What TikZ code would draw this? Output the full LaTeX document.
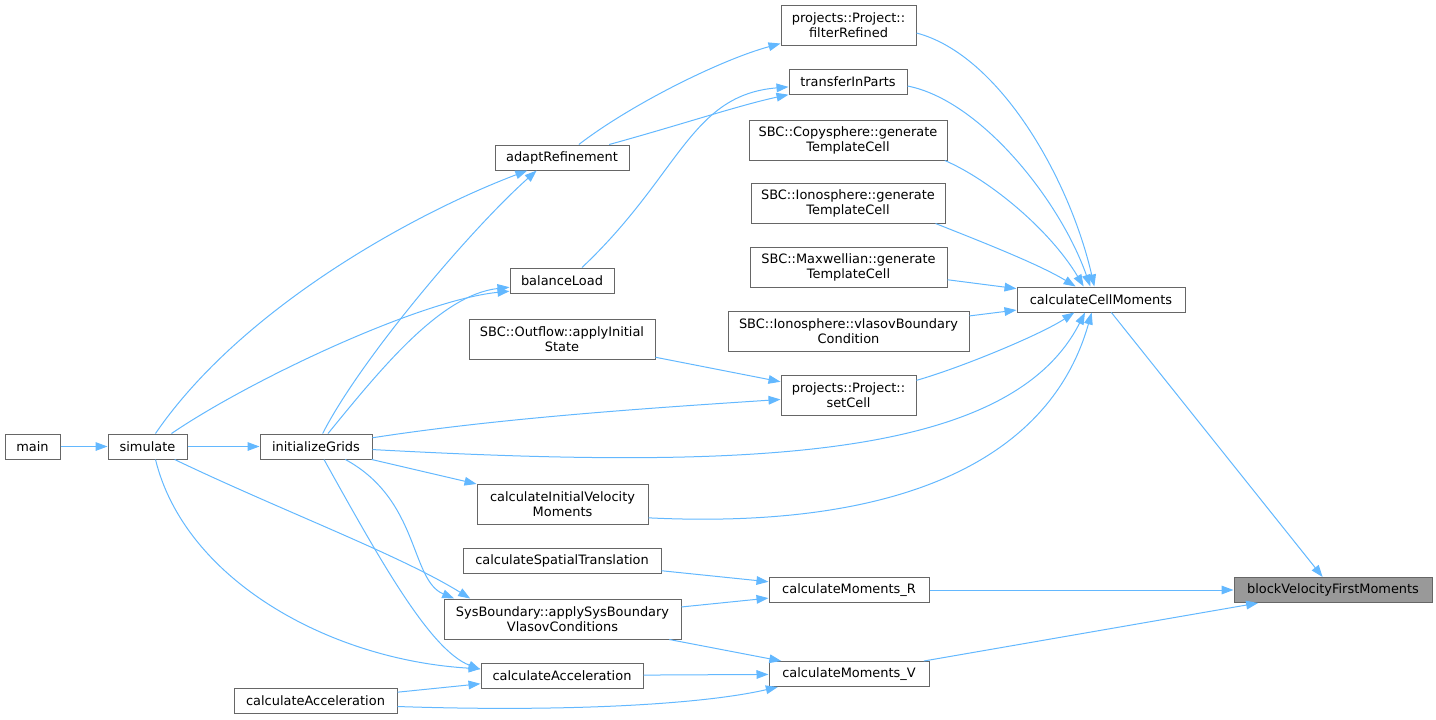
\documentclass[tikz,border=0pt]{standalone}
\usepackage{fontspec}
\setmainfont{DejaVu Sans}
\usetikzlibrary{arrows.meta}

\definecolor{edgeblue}{HTML}{63B8FF}
\definecolor{boxgray}{HTML}{666666}
\definecolor{selgray}{HTML}{999999}

\begin{document}
\begin{tikzpicture}[x=0.75pt, y=-0.75pt,
    fn/.style={draw=boxgray, fill=white, line width=0.75pt, align=center,
        font=\fontsize{9.7}{11.25}\selectfont, inner sep=0pt, minimum height=18.75pt},
    two/.style={minimum height=30pt},
    boxw/.style={minimum width=#1*0.75pt},
    call/.style={draw=edgeblue, line width=0.75pt, -{Triangle[length=9pt,width=6.5pt]}}]

    \useasboundingbox (0,0) rectangle (1436,719);

    % Functions on the left
    \node[fn, boxw=55]  (main)      at (32.5,446.5) {main};
    \node[fn, boxw=79]  (simulate)  at (147.5,446.5) {simulate};
    \node[fn, boxw=112] (initGrids) at (316,446.5) {initializeGrids};
    \node[fn, boxw=163] (accelLow)  at (315.5,700.5) {calculateAcceleration};

    % Middle column
    \node[fn, boxw=134]      (adaptRef)       at (562,157.5) {adaptRefinement};
    \node[fn, boxw=104]      (balanceLoad)    at (562,280.5) {balanceLoad};
    \node[fn, two, boxw=186] (outflowInit)    at (562,339) {SBC::Outflow::applyInitial\\State};
    \node[fn, two, boxw=171] (initVelMoments) at (562.5,504) {calculateInitialVelocity\\Moments};
    \node[fn, boxw=198]      (spatialTrans)   at (562,560.5) {calculateSpatialTranslation};
    \node[fn, two, boxw=237] (sysBoundary)    at (562.5,619) {SysBoundary::applySysBoundary\\VlasovConditions};
    \node[fn, boxw=162]      (accelUp)        at (562,675.5) {calculateAcceleration};

    % Right column
    \node[fn, two, boxw=135] (filterRefined)   at (848.5,25) {projects::Project::\\filterRefined};
    \node[fn, boxw=118]      (transferInParts) at (848,82) {transferInParts};
    \node[fn, two, boxw=198] (copyGen)         at (848,140) {SBC::Copysphere::generate\\TemplateCell};
    \node[fn, two, boxw=194] (ionoGen)         at (848,203) {SBC::Ionosphere::generate\\TemplateCell};
    \node[fn, two, boxw=197] (maxwGen)         at (848.5,267) {SBC::Maxwellian::generate\\TemplateCell};
    \node[fn, two, boxw=241] (ionoVlasov)      at (848.5,331) {SBC::Ionosphere::vlasovBoundary\\Condition};
    \node[fn, two, boxw=135] (setCell)         at (848.5,395) {projects::Project::\\setCell};
    \node[fn, boxw=160]      (momentsR)        at (849,590) {calculateMoments\_R};
    \node[fn, boxw=160]      (momentsV)        at (849,674) {calculateMoments\_V};

    \node[fn, boxw=168] (cellMoments) at (1101,299.5) {calculateCellMoments};
    \node[fn, fill=selgray, boxw=198] (blockFirst) at (1333,590) {blockVelocityFirstMoments};

    % Straight calls
    \draw[call] (main) -- (simulate);
    \draw[call] (simulate) -- (initGrids);
    \draw[call] (outflowInit) -- (setCell);
    \draw[call] (initGrids) -- (initVelMoments);
    \draw[call] (maxwGen) -- (cellMoments);
    \draw[call] (ionoVlasov) -- (cellMoments);
    \draw[call] (cellMoments) -- (blockFirst);
    \draw[call] (spatialTrans) -- (momentsR);
    \draw[call] (sysBoundary) -- (momentsR);
    \draw[call] (momentsR) -- (blockFirst);
    \draw[call] (momentsV) -- (blockFirst);
    \draw[call] (sysBoundary) -- (momentsV);
    \draw[call] (accelUp) -- (momentsV);
    \draw[call] (accelLow) -- (accelUp);

    % Curved calls, upper part
    \draw[call] ([xshift=6pt]simulate.north) .. controls (240,310) and (410,215) .. ([xshift=-26pt]adaptRef.south);
    \draw[call] ([xshift=5pt]initGrids.north) .. controls (360,360) and (470,230) .. ([xshift=-19pt]adaptRef.south);
    \draw[call] ([xshift=18pt]simulate.north) .. controls (250,380) and (420,300) .. ([yshift=-8pt]balanceLoad.west);
    \draw[call] ([xshift=9pt]initGrids.north) .. controls (380,370) and (440,295) .. ([yshift=-5pt]balanceLoad.west);
    \draw[call] (adaptRef) .. controls (630,105) and (720,60) .. (filterRefined);
    \draw[call] (adaptRef) .. controls (680,125) and (740,105) .. (transferInParts);
    \draw[call] ([xshift=15pt]balanceLoad.north) .. controls (680,175) and (690,95) .. (transferInParts);
    \draw[call] (initGrids) .. controls (500,418) and (650,408) .. (setCell);

    % Curved calls into calculateCellMoments
    \draw[call] (initGrids) .. controls (750,470) and (1010,460) .. ([xshift=-12pt]cellMoments.south);
    \draw[call] ([yshift=5pt]initVelMoments.south east) .. controls (900,530) and (1050,460) .. ([xshift=-7pt]cellMoments.south);
    \draw[call] ([yshift=11pt]setCell.east) .. controls (960,368) and (1040,335) .. ([xshift=-20pt]cellMoments.south);
    \draw[call] ([yshift=-6pt]filterRefined.east) .. controls (1000,55) and (1070,180) .. ([xshift=-5pt]cellMoments.north);
    \draw[call] ([yshift=-3pt]transferInParts.east) .. controls (980,100) and (1060,200) .. ([xshift=-8pt]cellMoments.north);
    \draw[call] ([xshift=-2pt]copyGen.south east) .. controls (990,180) and (1050,230) .. ([xshift=-13pt]cellMoments.north);
    \draw[call] ([xshift=-7.5pt]ionoGen.south east) .. controls (990,245) and (1040,265) .. ([xshift=-19pt]cellMoments.north);

    % Curved calls, lower part
    \draw[call] (simulate) .. controls (280,510) and (400,555) .. ([xshift=20pt]sysBoundary.north west);
    \draw[call] ([xshift=22pt]initGrids.south) .. controls (420,500) and (410,580) .. ([xshift=8pt]sysBoundary.north west);
    \draw[call] ([xshift=6pt]simulate.south) .. controls (185,580) and (330,660) .. ([yshift=5pt]accelUp.west);
    \draw[call] ([xshift=6pt]initGrids.south) .. controls (380,560) and (430,650) .. ([yshift=4.5pt]accelUp.west);
    \draw[call] ([yshift=-4.5pt]accelLow.east) .. controls (560,712) and (700,705) .. ([xshift=7pt]momentsV.south west);

\end{tikzpicture}
\end{document}
